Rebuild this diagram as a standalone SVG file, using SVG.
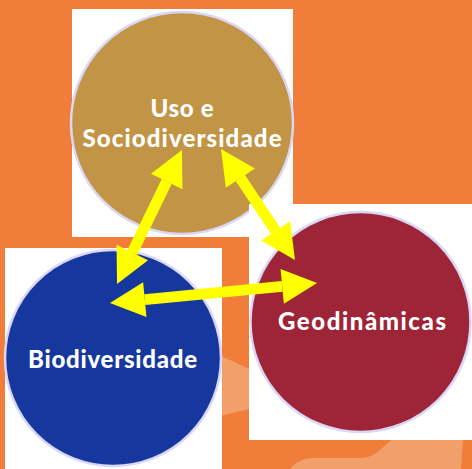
<svg xmlns="http://www.w3.org/2000/svg" width="472" height="469" viewBox="0 0 472 469">
<defs>
<style>
.bg{fill:#F07E3A}
.wave{fill:#F0A068}
.card{fill:#FFFFFF}
.circ{stroke:#DAD6F6;stroke-width:2.5}
.lbl{font-family:Lato,"Noto Sans","Liberation Sans",sans-serif;font-weight:900;font-size:24px;fill:#FFFFFF;text-anchor:middle}
.arr{stroke:#FFFF00;stroke-width:11;fill:none;marker-start:url(#ah);marker-end:url(#ah)}
</style>
<marker id="ah" viewBox="0 -18 36 36" refX="0" refY="0" markerUnits="userSpaceOnUse" markerWidth="36" markerHeight="36" orient="auto-start-reverse" overflow="visible">
<path d="M0,-17.5 L35,0 L0,17.5 Z" fill="#FFFF00"/>
</marker>
</defs>
<rect class="bg" x="0" y="0" width="472" height="469"/>
<path class="wave" d="M200,350 C215,352 235,362 255,372 L255,408 C240,410 225,416 200,420 Z"/>
<path class="wave" d="M290,469 C296,462 302,458 315,458 L360,458 C376,458 380,448 392,440 L463,440 L461,469 Z"/>
<g id="node-uso">
<rect class="card" x="72" y="9" width="221" height="228"/>
<circle class="circ" cx="182" cy="123" r="111" fill="#C19545"/>
<text class="lbl" x="182" y="117" textLength="63" lengthAdjust="spacing">Uso e</text>
<text class="lbl" x="182" y="147" textLength="199" lengthAdjust="spacing">Sociodiversidade</text>
</g>
<g id="node-geo">
<rect class="card" x="249" y="204" width="223" height="236"/>
<circle class="circ" cx="360.5" cy="322" r="110" fill="#9E2538"/>
<text class="lbl" x="362" y="330" textLength="168" lengthAdjust="spacing">Geodinâmicas</text>
</g>
<g id="node-bio">
<rect class="card" x="5" y="248" width="217" height="221"/>
<circle class="circ" cx="113" cy="358" r="108" fill="#16389E"/>
<text class="lbl" x="112.5" y="368" textLength="169" lengthAdjust="spacing">Biodiversidade</text>
</g>
<g id="connectors">
<line class="arr" x1="166.7" y1="181.5" x2="132.3" y2="252.5"/>
<line class="arr" x1="240.4" y1="178.1" x2="275.6" y2="230.9"/>
<line class="arr" x1="144.8" y1="299.6" x2="282.2" y2="286.4"/>
</g>
</svg>
